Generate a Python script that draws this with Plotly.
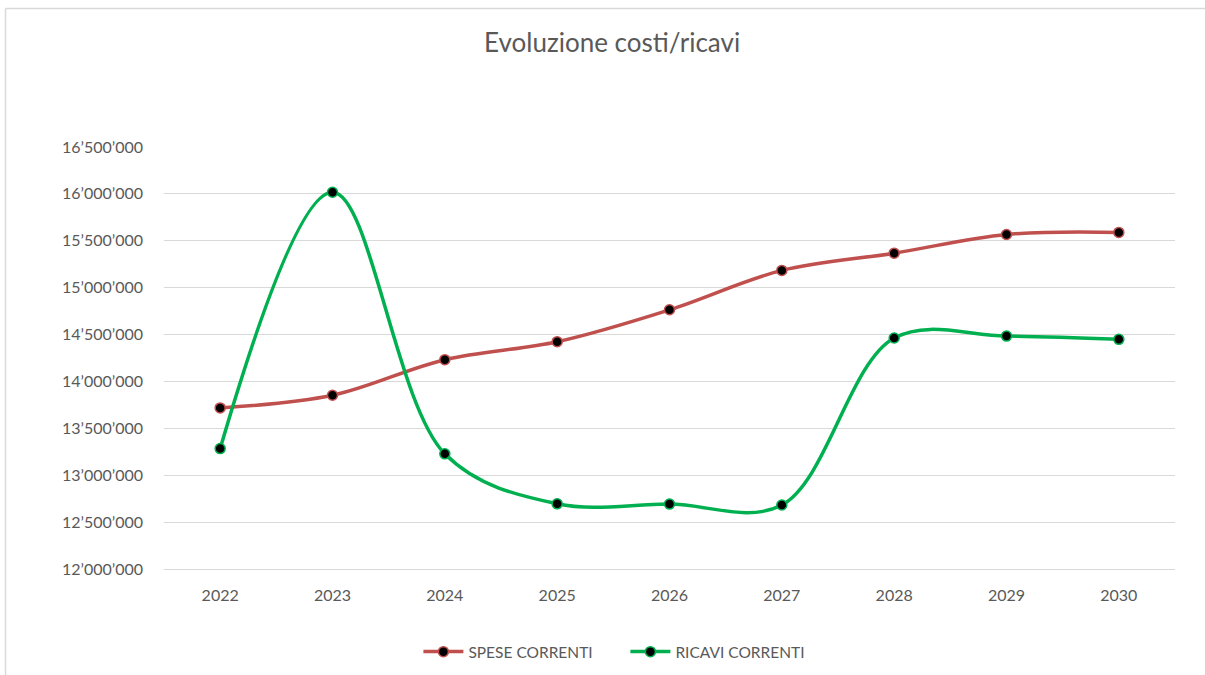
import plotly.graph_objects as go

anni = ["2022", "2023", "2024", "2025", "2026", "2027", "2028", "2029", "2030"]
spese_correnti = [13718000, 13853000, 14232000, 14424000, 14764000,
                  15184000, 15368000, 15567000, 15589000]
ricavi_correnti = [13284000, 16018000, 13228000, 12695000, 12692000,
                   12682000, 14463000, 14484000, 14449000]

fig = go.Figure()

fig.add_trace(go.Scatter(
    x=anni, y=spese_correnti, name="SPESE CORRENTI",
    mode="lines+markers",
    line=dict(color="#C0504D", width=3.5, shape="spline", smoothing=1),
    marker=dict(color="black", size=10, line=dict(color="#C0504D", width=1.5))
))

fig.add_trace(go.Scatter(
    x=anni, y=ricavi_correnti, name="RICAVI CORRENTI",
    mode="lines+markers",
    line=dict(color="#00B050", width=3.5, shape="spline", smoothing=1),
    marker=dict(color="black", size=10, line=dict(color="#00B050", width=1.5))
))

fig.update_layout(
    width=1205,
    height=675,
    paper_bgcolor="white",
    plot_bgcolor="white",
    separators=".’",
    font=dict(family="Lato, Open Sans, sans-serif", color="#595959", size=16),
    title=dict(
        text="Evoluzione costi/ricavi",
        x=0.508, xanchor="center",
        y=0.937, yanchor="middle",
        font=dict(size=26, color="#595959")
    ),
    margin=dict(l=164, r=30, t=147, b=106, autoexpand=False),
    legend=dict(
        orientation="h",
        xref="container", yref="container",
        x=0.519, xanchor="center",
        y=0.034, yanchor="middle",
        font=dict(size=15.5, color="#595959"),
        itemwidth=40,
        entrywidth=152
    ),
    showlegend=True
)

fig.update_xaxes(
    type="category",
    range=[-0.5, 8.5],
    showgrid=False,
    showline=True,
    linecolor="#D9D9D9",
    linewidth=1,
    ticks="",
    ticklabelstandoff=12,
    tickfont=dict(size=16, color="#595959")
)

fig.update_yaxes(
    range=[12000000, 16500000],
    dtick=500000,
    tickformat=",d",
    showgrid=True,
    gridcolor="#D9D9D9",
    gridwidth=1,
    zeroline=False,
    showline=False,
    ticks="",
    ticklabelstandoff=20,
    tickfont=dict(size=16, color="#595959")
)

# chart border like the Excel frame
fig.add_shape(type="line", xref="paper", yref="paper",
              x0=(5.5 - 164) / 1011, x1=(1205 - 164) / 1011,
              y0=(569 - 8.5) / 422, y1=(569 - 8.5) / 422,
              line=dict(color="#D9D9D9", width=1.5))
fig.add_shape(type="line", xref="paper", yref="paper",
              x0=(5.5 - 164) / 1011, x1=(5.5 - 164) / 1011,
              y0=(569 - 8.5) / 422, y1=(569 - 680) / 422,
              line=dict(color="#D9D9D9", width=1.5))

fig.write_html("out.html", config={"displayModeBar": False},
               post_script="document.body.style.margin='0';")
